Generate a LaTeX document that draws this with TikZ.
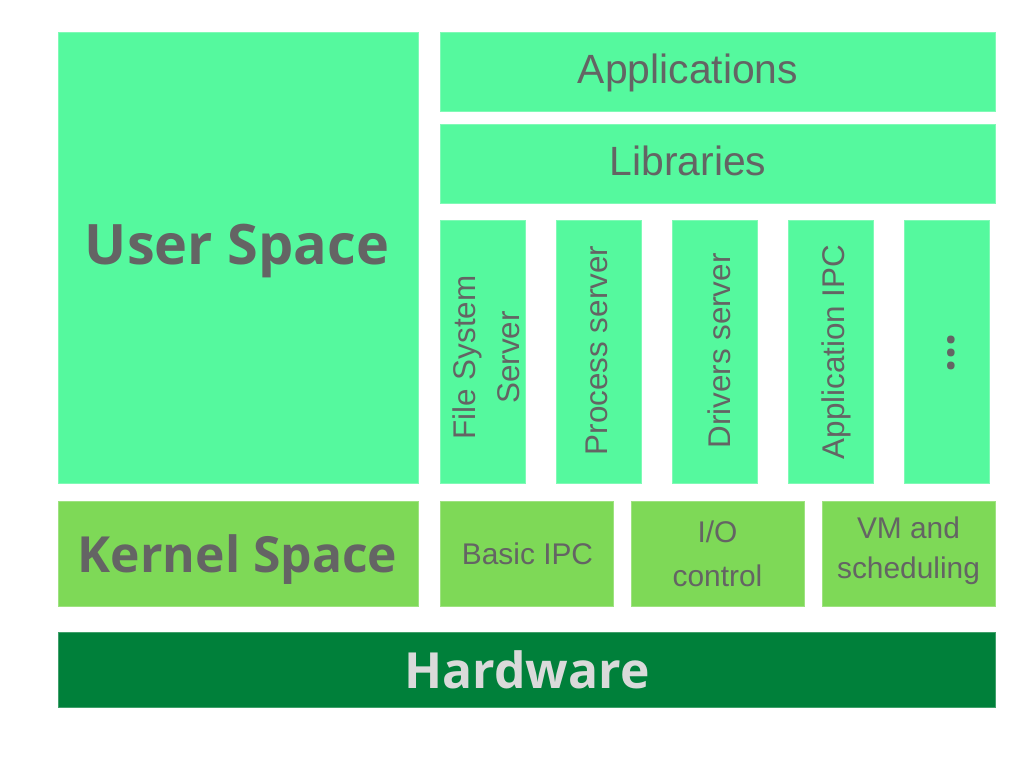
\documentclass[tikz,border=0pt]{standalone}
\usepackage{fontspec}
\setmainfont{Liberation Sans}
\newfontfamily\heavy{Open Sans}
\definecolor{userg}{HTML}{55F99E}
\definecolor{kerng}{HTML}{7ED957}
\definecolor{hwg}{HTML}{00803A}
\definecolor{txtg}{HTML}{646464}
\definecolor{hwtxt}{HTML}{DADADA}
\begin{document}
\begin{tikzpicture}[x=1bp,y=-1bp,
  box/.style={rectangle, inner sep=0pt, outer sep=0pt, fill=#1, draw=#1!75!white, line width=0.7bp},
  lbl/.style={text=txtg, inner sep=0pt, outer sep=0pt, font=\fontsize{41}{48}\selectfont},
  sml/.style={text=txtg, inner sep=0pt, outer sep=0pt, font=\fontsize{30}{44}\selectfont},
  vert/.style={text=txtg, inner sep=0pt, outer sep=0pt, rotate=90, font=\fontsize{31.5}{44}\selectfont},
  big/.style={text=txtg, inner sep=0pt, outer sep=0pt, anchor=base, font=\heavy\bfseries\fontsize{#1}{#1}\selectfont}
]
\useasboundingbox (0,0) rectangle (1024,768);
\fill[white] (0,0) rectangle (1024,768);

% user space
\node[box=userg, minimum width=360bp, minimum height=451bp] (user) at (238,257.5) {};
\node[big=56] (usert) at (237,264) {User Space};

\node[box=userg, minimum width=555bp, minimum height=79bp] (apps) at (717.5,71.5) {};
\node[lbl, anchor=base] (appst) at (688,84) {Applications};
\node[box=userg, minimum width=555bp, minimum height=79bp] (libs) at (717.5,163.5) {};
\node[lbl, anchor=base] (libst) at (688,175) {Libraries};

% servers
\node[box=userg, minimum width=85bp, minimum height=263bp] (fs) at (482.5,351.5) {};
\node[vert, align=center] (fst) at (486,357.5) {File System\\Server};
\node[box=userg, minimum width=85bp, minimum height=263bp] (ps) at (598.5,351.5) {};
\node[vert, anchor=base] (pst) at (607,350.5) {Process server};
\node[box=userg, minimum width=85bp, minimum height=263bp] (ds) at (714.5,351.5) {};
\node[vert, anchor=base] (dst) at (730,351) {Drivers server};
\node[box=userg, minimum width=85bp, minimum height=263bp] (ai) at (831,351.5) {};
\node[vert, anchor=base] (ait) at (844,352) {Application IPC};
\node[box=userg, minimum width=85bp, minimum height=263bp] (more) at (947,351.5) {};
\node[text=txtg, inner sep=0pt, rotate=90, anchor=base, font=\heavy\bfseries\fontsize{46}{46}\selectfont] (moret) at (954.5,353) {...};

% kernel space
\node[box=kerng, minimum width=360bp, minimum height=105bp] (kern) at (238,553.5) {};
\node[big=50] (kernt) at (237.5,572) {Kernel Space};
\node[box=kerng, minimum width=173bp, minimum height=105bp] (ipc) at (526.5,553.5) {};
\node[sml, anchor=base] (ipct) at (527.5,564) {Basic IPC};
\node[box=kerng, minimum width=173bp, minimum height=105bp] (io) at (717.5,553.5) {};
\node[sml, align=center] (iot) at (717.5,554) {I/O\\control};
\node[box=kerng, minimum width=173bp, minimum height=105bp] (vm) at (908.5,553.5) {};
\node[sml, align=center, font=\fontsize{30}{40}\selectfont] (vmt) at (908.5,550.4) {VM and\\scheduling};

% hardware
\node[box=hwg, minimum width=937bp, minimum height=75bp] (hw) at (526.5,669.5) {};
\node[big=50, text=hwtxt] (hwt) at (527,688) {Hardware};
\end{tikzpicture}
\end{document}
